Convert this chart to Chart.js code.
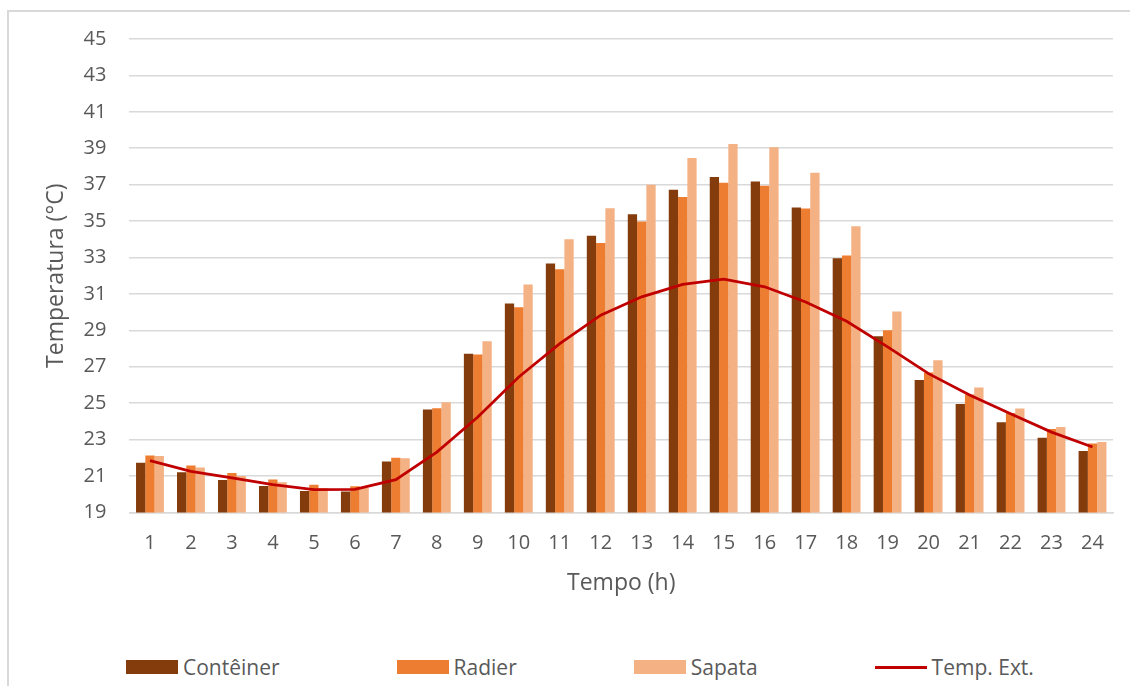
<!DOCTYPE html>
<html>
<head>
<meta charset="utf-8">
<script src="https://cdn.jsdelivr.net/npm/chart.js@4/dist/chart.umd.min.js"></script>
<style>
  html, body { margin: 0; padding: 0; background: #fff; }
  body { width: 1130px; height: 686px; position: relative; overflow: hidden; font-family: "Open Sans", sans-serif; }
  #frame { position: absolute; left: 7px; top: 10px; width: 1200px; height: 800px;
           border-left: 2px solid #d9d9d9; border-top: 2px solid #d9d9d9; }
  #wrap { position: absolute; left: 0; top: 0; width: 1130px; height: 620px; }
  #legend { position: absolute; left: 126px; top: 653px; display: flex; align-items: center; gap: 117px;
            font-size: 21px; color: #595959; white-space: nowrap; }
  .item { display: flex; align-items: center; }
  .swatch { width: 52px; height: 14px; margin-right: 5px; }
  .swatch.line { height: 3px; }
</style>
</head>
<body>
<div id="frame"></div>
<div id="wrap"><canvas id="tempChart" width="1130" height="620"></canvas></div>
<div id="legend"></div>
<script>
const hours = ['1','2','3','4','5','6','7','8','9','10','11','12','13','14','15','16','17','18','19','20','21','22','23','24'];

const conteiner = [21.73, 21.2, 20.78, 20.45, 20.17, 20.15, 21.8, 24.65, 27.72, 30.47, 32.67, 34.19,
                   35.37, 36.72, 37.42, 37.18, 35.75, 32.96, 28.68, 26.27, 24.95, 23.95, 23.1, 22.37];
const radier = [22.13, 21.57, 21.16, 20.81, 20.52, 20.43, 22.0, 24.72, 27.67, 30.27, 32.36, 33.79,
                34.98, 36.32, 37.1, 36.94, 35.69, 33.11, 29.0, 26.68, 25.48, 24.46, 23.58, 22.78];
const sapata = [22.1, 21.47, 21.0, 20.65, 20.34, 20.34, 21.97, 25.05, 28.4, 31.52, 34.0, 35.71,
                37.0, 38.46, 39.23, 39.05, 37.65, 34.72, 30.03, 27.36, 25.86, 24.7, 23.69, 22.87];
const tempExt = [21.84, 21.25, 20.9, 20.52, 20.25, 20.26, 20.8, 22.31, 24.24, 26.44, 28.27, 29.83,
                 30.84, 31.52, 31.81, 31.39, 30.56, 29.5, 28.09, 26.62, 25.45, 24.42, 23.41, 22.59];

const yMin = 19, yMax = 45, yStep = 2;

const textColor = '#595959';
const gridColor = '#d9d9d9';

var ctx = document.getElementById('tempChart').getContext('2d');
var chart = new Chart(ctx, {
    type: 'bar',
    data: {
        labels: hours,
        datasets: [
            { label: 'Contêiner', data: conteiner, backgroundColor: '#843c0c', order: 1 },
            { label: 'Radier', data: radier, backgroundColor: '#ed7d31', order: 1 },
            { label: 'Sapata', data: sapata, backgroundColor: '#f4b183', order: 1 },
            { type: 'line', label: 'Temp. Ext.', data: tempExt, borderColor: '#c00000', backgroundColor: '#c00000',
              borderWidth: 2.75, pointRadius: 0, tension: 0, order: 0 }
        ]
    },
    options: {
        responsive: false,
        animation: false,
        devicePixelRatio: 1,
        datasets: { bar: { categoryPercentage: 0.68, barPercentage: 1.0 } },
        layout: { padding: { left: 40, top: 39, right: 17, bottom: 19 } },
        plugins: { legend: { display: false }, tooltip: { enabled: false } },
        scales: {
            x: {
                grid: { display: false, drawTicks: false },
                border: { color: gridColor, width: 1.5 },
                ticks: { color: textColor, font: { family: 'Open Sans', size: 20 }, padding: 19, maxRotation: 0 },
                // tick padding is counted twice in the axis height, so pull the title up a bit
                title: { display: true, text: 'Tempo (h)', color: textColor,
                         font: { family: 'Open Sans', size: 23 }, padding: { top: -5, bottom: 4 } }
            },
            y: {
                min: yMin, max: yMax,
                grid: { color: gridColor, lineWidth: 1.5, drawTicks: false },
                border: { display: false },
                ticks: { stepSize: yStep, color: textColor, font: { family: 'Open Sans', size: 20 }, padding: 23 },
                title: { display: true, text: 'Temperatura (°C)', color: textColor,
                         font: { family: 'Open Sans', size: 23 }, padding: { top: 3, bottom: -10 } }
            }
        }
    }
});

// legend built from the chart's datasets
const legendEl = document.getElementById('legend');
chart.data.datasets.forEach(ds => {
    const item = document.createElement('div');
    item.className = 'item';
    const sw = document.createElement('span');
    sw.className = 'swatch' + (ds.type === 'line' ? ' line' : '');
    sw.style.background = ds.type === 'line' ? ds.borderColor : ds.backgroundColor;
    const txt = document.createElement('span');
    txt.textContent = ds.label;
    item.appendChild(sw);
    item.appendChild(txt);
    legendEl.appendChild(item);
});
</script>
</body>
</html>
